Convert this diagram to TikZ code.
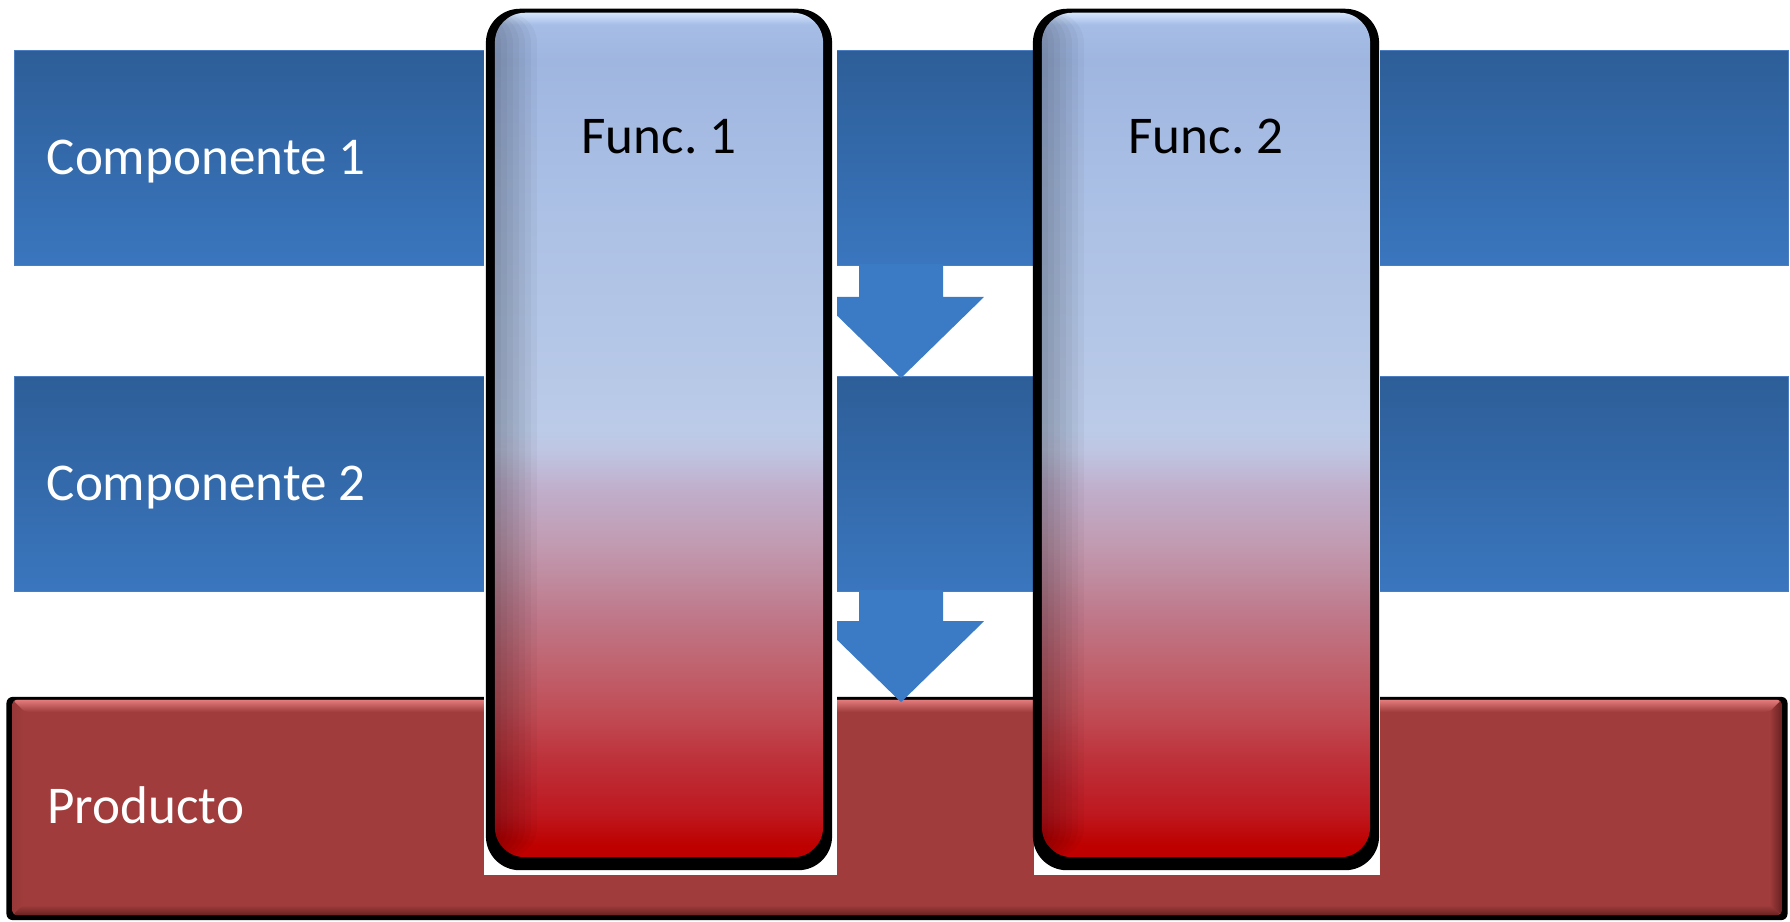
\documentclass[tikz,border=0pt]{standalone}
\usepackage{fontspec}
\setmainfont{Carlito}
\usepackage{tikz}
\usetikzlibrary{calc}

\definecolor{rowtop}{HTML}{2D5E98}
\definecolor{rowbot}{HTML}{3A76BE}
\definecolor{rowedge}{HTML}{4A7EC0}
\definecolor{flowblue}{HTML}{3B7BC6}
\definecolor{prodred}{HTML}{A03C3C}
\definecolor{prodhi}{HTML}{E27C7C}
\definecolor{proddark}{HTML}{6A2222}

% top light blue -> red at the bottom
\pgfdeclareverticalshading{funcfill}{100bp}{
  rgb(0bp)=(.753,0,0);
  rgb(25bp)=(.753,0,0);
  rgb(25.7bp)=(.745,0,0);
  rgb(27.6bp)=(.745,.094,.125);
  rgb(30.6bp)=(.745,.188,.220);
  rgb(33.5bp)=(.753,.298,.333);
  rgb(36.5bp)=(.753,.392,.439);
  rgb(39.5bp)=(.749,.478,.549);
  rgb(43.4bp)=(.757,.604,.690);
  rgb(46.7bp)=(.753,.682,.796);
  rgb(49.1bp)=(.749,.776,.886);
  rgb(50.3bp)=(.733,.796,.910);
  rgb(63.9bp)=(.671,.753,.898);
  rgb(72.2bp)=(.624,.714,.878);
  rgb(74.3bp)=(.651,.741,.902);
  rgb(75bp)=(.831,.894,.984);
  rgb(100bp)=(.831,.894,.984)}

\tikzset{
  comprow/.style={top color=rowtop, bottom color=rowbot, draw=rowedge,
    line width=0.01cm, minimum width=17.73cm, minimum height=2.15cm,
    inner sep=0pt, anchor=north west},
  prodback/.style={fill=black, rounded corners=0.06cm,
    minimum width=17.80cm, minimum height=2.23cm, inner sep=0pt},
  prodbox/.style={fill=prodred, rounded corners=0.04cm,
    minimum width=17.68cm, minimum height=2.15cm, inner sep=0pt,
    path picture={
      \coordinate (bnw) at (path picture bounding box.north west);
      \coordinate (bne) at (path picture bounding box.north east);
      \coordinate (bsw) at (path picture bounding box.south west);
      \coordinate (bse) at (path picture bounding box.south east);
      \shade[top color=prodhi, bottom color=prodred] (bnw) -- (bne)
        -- ($(bne)+(-12,12)$) -- ($(bnw)+(12,12)$) -- cycle;
      \shade[left color=prodred, right color=proddark] (bne) -- (bse)
        -- ($(bse)+(-12,-10)$) -- ($(bne)+(-12,12)$) -- cycle;
      \shade[top color=prodred, bottom color=proddark] (bsw) -- (bse)
        -- ($(bse)+(-12,-10)$) -- ($(bsw)+(10,-10)$) -- cycle;
      \shade[left color=prodred!85!proddark, right color=prodred] (bnw) -- (bsw)
        -- ($(bsw)+(10,-10)$) -- ($(bnw)+(12,12)$) -- cycle;
    }},
  gapbox/.style={fill=white, minimum height=8.74cm,
    inner sep=0pt, anchor=north west},
  funcback/.style={fill=black, rounded corners=0.34cm,
    minimum width=3.46cm, minimum height=8.61cm, inner sep=0pt},
  funcbox/.style={shade, shading=funcfill, rounded corners=0.3cm,
    minimum width=3.28cm, minimum height=8.44cm, inner sep=0pt,
    path picture={
      \foreach \w in {6,12,...,42}
        \fill[black, opacity=0.035]
          (path picture bounding box.north west) rectangle
          ($(path picture bounding box.south west)+(\w,0)$);
    }},
  flowfill/.style={fill=flowblue},
  rowlabel/.style={text=white, font=\fontsize{15.1}{18}\selectfont, inner sep=0pt},
  functext/.style={text=black, font=\fontsize{15.1}{18}\selectfont, inner sep=0pt}
}

\begin{document}
\begin{tikzpicture}[x=0.01cm, y=-0.01cm]
\useasboundingbox (0,0) rectangle (1790,922);
% Component rows and product bar
\node[comprow] (comp1) at (14,50) {};
\node[comprow] (comp2) at (14,376) {};
\node[prodback] (prod-back) at (897,808.5) {};
\node[prodbox] (prod) at (897,807.5) {};
\node[rowlabel, anchor=base west] (comp1-label) at ($(comp1.west)+(32,16)$) {Componente 1};
\node[rowlabel, anchor=base west] (comp2-label) at ($(comp2.west)+(32,16)$) {Componente 2};
\node[rowlabel, anchor=base west] (prod-label) at ($(prod.west)+(35,16)$) {Producto};
% Block arrows between the rows
\coordinate (flow) at (901,0);
\coordinate (a1s) at (comp1.south -| flow);
\coordinate (a1t) at ($(comp2.north -| flow)+(0,2)$);
\coordinate (a2s) at (comp2.south -| flow);
\coordinate (a2t) at ($(prod.north -| flow)+(0,3)$);
\fill[flowfill] ($(a1s)+(-42,-2)$) -- ($(a1s)+(42,-2)$) -- ($(a1t)+(42,-81)$)
  -- ($(a1t)+(83,-81)$) -- (a1t) -- ($(a1t)+(-83,-81)$) -- ($(a1t)+(-42,-81)$) -- cycle;
\fill[flowfill] ($(a2s)+(-42,-2)$) -- ($(a2s)+(42,-2)$) -- ($(a2t)+(42,-81)$)
  -- ($(a2t)+(83,-81)$) -- (a2t) -- ($(a2t)+(-83,-81)$) -- ($(a2t)+(-42,-81)$) -- cycle;
% Function columns
\node[gapbox, minimum width=3.53cm] (gap1) at (483,0) {};
\node[gapbox, minimum width=3.46cm] (gap2) at (1033,0) {};
\node[funcback] (func1-back) at (659,439.5) {};
\node[funcback] (func2-back) at (1206,439.5) {};
\node[funcbox] (func1) at (659,435) {};
\node[funcbox] (func2) at (1206,435) {};
\node[functext, anchor=base] (func1-label) at ($(func1.north)+(0,141)$) {Func.\ 1};
\node[functext, anchor=base] (func2-label) at ($(func2.north)+(0,141)$) {Func.\ 2};
\end{tikzpicture}
\end{document}
